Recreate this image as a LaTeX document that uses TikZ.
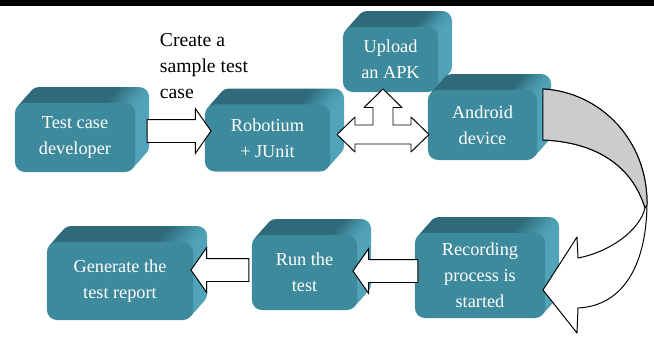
\documentclass[tikz,border=0pt]{standalone}
\usepackage{fontspec}
\setmainfont{Liberation Serif}
\newfontfamily\diagfont{Liberation Serif}
\usetikzlibrary{shapes.arrows,shadows}

\definecolor{boxfront}{HTML}{3D8A9C}
\definecolor{boxtop}{HTML}{2E6A7A}
\definecolor{boxside}{HTML}{52A6BB}
\definecolor{bandgray}{HTML}{CCCCCC}
\pgfdeclarehorizontalshading{boxext}{100bp}{color(0bp)=(boxtop); color(62bp)=(boxtop); color(75bp)=(boxside); color(100bp)=(boxside)}

\tikzset{
  extr/.style={general shadow={shadow xshift=#1*1.25pt, shadow yshift=#1*1.42pt, shade, shading=boxext}},
  stepbox/.style={rectangle, rounded corners=7pt, fill=boxfront, text=white, align=center,
    font=\diagfont\fontsize{13}{18.5}\selectfont, inner sep=0pt,
    extr=8, extr=7, extr=6, extr=5, extr=4, extr=3, extr=2, extr=1},
  blockarr/.style={single arrow, draw=black, fill=white, line width=0.7pt, inner xsep=0pt,
    inner ysep=0.275cm, single arrow head extend=0.275cm, single arrow tip angle=110},
  bandline/.style={draw=black, line width=0.7pt, line join=round}
}

\begin{document}
\begin{tikzpicture}[x=0.025cm, y=-0.025cm]
    \useasboundingbox (0,0) rectangle (654,338);
    \fill[black] (0,0) rectangle (654,6);

    % Top row
    \node[stepbox, minimum width=3cm, minimum height=1.725cm] (dev) at (75,137.5) {Test case\\developer};
    \node[stepbox, minimum width=3.125cm, minimum height=1.675cm] (rob) at (267.5,138) {Robotium\\+ JUnit};
    \node[stepbox, minimum width=2.375cm, minimum height=1.625cm] (upl) at (390.5,59.5) {Upload\\an APK};
    \node[stepbox, minimum width=2.725cm, minimum height=1.75cm] (and) at (482.5,125) {Android\\device};

    % Bottom row
    \node[stepbox, minimum width=3.25cm, minimum height=2.125cm] (rec) at (480,275.5) {Recording\\process is\\started};
    \node[stepbox, minimum width=2.625cm, minimum height=1.875cm] (run) at (304.5,272.5) {Run the\\test};
    \node[stepbox, minimum width=3.65cm, minimum height=1.95cm] (gen) at (120,281) {Generate the\\test report};

    % Label of the first step
    \node[anchor=west, align=left, font=\diagfont\fontsize{14}{18.5}\selectfont] (cap) at (155,66) {Create a\\sample test\\case};

    % Block arrows
    \node[blockarr, minimum height=1.6cm] (a1) at (175,131) {};
    \node[blockarr, minimum height=1.625cm, shape border rotate=180] (a2) at (389.5,271) {};
    \node[blockarr, minimum height=1.45cm, shape border rotate=180] (a3) at (224,270) {};

    % Three-way arrow between Robotium, APK and device
    \begin{scope}[shift={(383,134.5)}]
        \draw[bandline, fill=white] (-46,0) -- (-28,-17.5) -- (-28,-9.5) -- (-10,-9.5) -- (-10,-27) -- (-19,-27)
            -- (0,-45.5) -- (19,-27) -- (10,-27) -- (10,-9.5) -- (28,-9.5) -- (28,-17.5) -- (46,0)
            -- (28,17.5) -- (28,9.5) -- (-28,9.5) -- (-28,17.5) -- cycle;
    \end{scope}

    % Curved arrow from device back to recording
    \draw[bandline, fill=white] (543,89) .. controls (600,92) and (648,140) .. (647,205)
        .. controls (646,270) and (620,306) .. (578,308) -- (577,333) -- (543,290) -- (577,237) -- (578,258)
        .. controls (610,252) and (640,230) .. (645,208)
        .. controls (632,165) and (595,142) .. (543,140) -- cycle;
    \draw[bandline, fill=bandgray] (543,89) .. controls (600,92) and (648,140) .. (647,205) -- (645,208)
        .. controls (632,165) and (595,142) .. (543,140) -- cycle;
\end{tikzpicture}
\end{document}
